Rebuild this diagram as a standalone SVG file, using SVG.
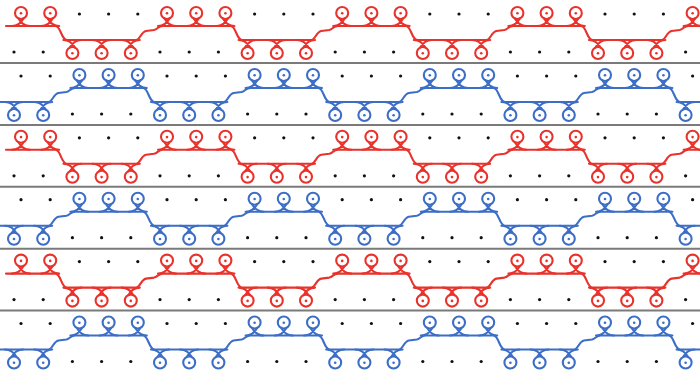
<svg xmlns="http://www.w3.org/2000/svg" xmlns:xlink="http://www.w3.org/1999/xlink" width="700" height="371" viewBox="0 0 700 371">
<style>
.thr{fill:none;stroke:currentColor;stroke-width:2.1;stroke-linecap:round;stroke-linejoin:round}
.cd{fill:currentColor}
.red{color:#e8322b}
.blue{color:#3c6ec6}
.dot{fill:#111}
.sep{stroke:#7a7a7a;stroke-width:2}
</style>
<defs>
<g id="lu"><circle class="thr" cx="0" cy="0" r="6"/><path class="thr" d="M-9,13 C-3,13 0,10 2.5,5.45 M9,13 C3,13 0,10 -2.5,5.45"/><circle class="cd" cx="0" cy="0.3" r="1.3"/></g>
<g id="ld"><circle class="thr" cx="0" cy="0" r="6"/><path class="thr" d="M-9,-13 C-3,-13 0,-10 2.5,-5.45 M9,-13 C3,-13 0,-10 -2.5,-5.45"/><circle class="cd" cx="0" cy="0.3" r="1.3"/></g>
<circle id="d" class="dot" cx="0" cy="0" r="1.6"/>
<g id="redRow">
<path class="thr" d="M6,26 L55.5,26 C61,26 61,40 67,40 L136,40 C140,40 141,32 146,31 L154,30 C158,29 158,26 163,26 L230.7,26 C236.2,26 236.2,40 242.2,40 L311.2,40 C315.2,40 316.2,32 321.2,31 L329.2,30 C333.2,29 333.2,26 338.2,26 L405.9,26 C411.4,26 411.4,40 417.4,40 L486.4,40 C490.4,40 491.4,32 496.4,31 L504.4,30 C508.4,29 508.4,26 513.4,26 L581.1,26 C586.6,26 586.6,40 592.6,40 L661.6,40 C665.6,40 666.6,32 671.6,31 L679.6,30 C683.6,29 683.6,26 688.6,26 L705,26"/>
<use href="#lu" x="21" y="13"/><use href="#lu" x="50.2" y="13"/><use href="#lu" x="167" y="13"/><use href="#lu" x="196.2" y="13"/><use href="#lu" x="225.4" y="13"/><use href="#lu" x="342.2" y="13"/><use href="#lu" x="371.4" y="13"/><use href="#lu" x="400.6" y="13"/><use href="#lu" x="517.4" y="13"/><use href="#lu" x="546.6" y="13"/><use href="#lu" x="575.8" y="13"/><use href="#lu" x="692.6" y="13"/>
<use href="#ld" x="72.4" y="53"/><use href="#ld" x="101.6" y="53"/><use href="#ld" x="130.8" y="53"/><use href="#ld" x="247.6" y="53"/><use href="#ld" x="276.8" y="53"/><use href="#ld" x="306" y="53"/><use href="#ld" x="422.8" y="53"/><use href="#ld" x="452" y="53"/><use href="#ld" x="481.2" y="53"/><use href="#ld" x="598" y="53"/><use href="#ld" x="627.2" y="53"/><use href="#ld" x="656.4" y="53"/>
<use href="#d" x="79.4" y="14"/><use href="#d" x="108.6" y="14"/><use href="#d" x="137.8" y="14"/><use href="#d" x="254.6" y="14"/><use href="#d" x="283.8" y="14"/><use href="#d" x="313" y="14"/><use href="#d" x="429.8" y="14"/><use href="#d" x="459" y="14"/><use href="#d" x="488.2" y="14"/><use href="#d" x="605" y="14"/><use href="#d" x="634.2" y="14"/><use href="#d" x="663.4" y="14"/>
<use href="#d" x="14" y="52"/><use href="#d" x="43.2" y="52"/><use href="#d" x="160" y="52"/><use href="#d" x="189.2" y="52"/><use href="#d" x="218.4" y="52"/><use href="#d" x="335.2" y="52"/><use href="#d" x="364.4" y="52"/><use href="#d" x="393.6" y="52"/><use href="#d" x="510.4" y="52"/><use href="#d" x="539.6" y="52"/><use href="#d" x="568.8" y="52"/><use href="#d" x="685.6" y="52"/>
</g>
<g id="blueRow">
<path class="thr" d="M0,40 L48.4,40 C52.4,40 53.4,32 58.4,31 L66.4,30 C70.4,29 70.4,26 75.4,26 L143.1,26 C148.6,26 148.6,40 154.6,40 L223.6,40 C227.6,40 228.6,32 233.6,31 L241.6,30 C245.6,29 245.6,26 250.6,26 L318.3,26 C323.8,26 323.8,40 329.8,40 L398.8,40 C402.8,40 403.8,32 408.8,31 L416.8,30 C420.8,29 420.8,26 425.8,26 L493.5,26 C499,26 499,40 505,40 L574,40 C578,40 579,32 584,31 L592,30 C596,29 596,26 601,26 L668.7,26 C674.2,26 674.2,40 680.2,40 L705,40"/>
<use href="#lu" x="79.4" y="13"/><use href="#lu" x="108.6" y="13"/><use href="#lu" x="137.8" y="13"/><use href="#lu" x="254.6" y="13"/><use href="#lu" x="283.8" y="13"/><use href="#lu" x="313" y="13"/><use href="#lu" x="429.8" y="13"/><use href="#lu" x="459" y="13"/><use href="#lu" x="488.2" y="13"/><use href="#lu" x="605" y="13"/><use href="#lu" x="634.2" y="13"/><use href="#lu" x="663.4" y="13"/>
<use href="#ld" x="14" y="53"/><use href="#ld" x="43.2" y="53"/><use href="#ld" x="160" y="53"/><use href="#ld" x="189.2" y="53"/><use href="#ld" x="218.4" y="53"/><use href="#ld" x="335.2" y="53"/><use href="#ld" x="364.4" y="53"/><use href="#ld" x="393.6" y="53"/><use href="#ld" x="510.4" y="53"/><use href="#ld" x="539.6" y="53"/><use href="#ld" x="568.8" y="53"/><use href="#ld" x="685.6" y="53"/>
<use href="#d" x="21" y="14"/><use href="#d" x="50.2" y="14"/><use href="#d" x="167" y="14"/><use href="#d" x="196.2" y="14"/><use href="#d" x="225.4" y="14"/><use href="#d" x="342.2" y="14"/><use href="#d" x="371.4" y="14"/><use href="#d" x="400.6" y="14"/><use href="#d" x="517.4" y="14"/><use href="#d" x="546.6" y="14"/><use href="#d" x="575.8" y="14"/><use href="#d" x="692.6" y="14"/>
<use href="#d" x="72.4" y="52"/><use href="#d" x="101.6" y="52"/><use href="#d" x="130.8" y="52"/><use href="#d" x="247.6" y="52"/><use href="#d" x="276.8" y="52"/><use href="#d" x="306" y="52"/><use href="#d" x="422.8" y="52"/><use href="#d" x="452" y="52"/><use href="#d" x="481.2" y="52"/><use href="#d" x="598" y="52"/><use href="#d" x="627.2" y="52"/><use href="#d" x="656.4" y="52"/>
</g>
</defs>
<rect width="700" height="371" fill="#ffffff"/>
<g id="band1" class="red" transform="translate(0,0)"><use href="#redRow"/></g>
<g id="band2" class="blue" transform="translate(0,62)"><use href="#blueRow"/></g>
<g id="band3" class="red" transform="translate(0,123.8)"><use href="#redRow"/></g>
<g id="band4" class="blue" transform="translate(0,185.7)"><use href="#blueRow"/></g>
<g id="band5" class="red" transform="translate(0,247.6)"><use href="#redRow"/></g>
<g id="band6" class="blue" transform="translate(0,309.5)"><use href="#blueRow"/></g>
<g id="separators">
<line class="sep" x1="0" y1="63" x2="700" y2="63"/>
<line class="sep" x1="0" y1="124.9" x2="700" y2="124.9"/>
<line class="sep" x1="0" y1="186.8" x2="700" y2="186.8"/>
<line class="sep" x1="0" y1="248.7" x2="700" y2="248.7"/>
<line class="sep" x1="0" y1="310.6" x2="700" y2="310.6"/>
</g>
</svg>
